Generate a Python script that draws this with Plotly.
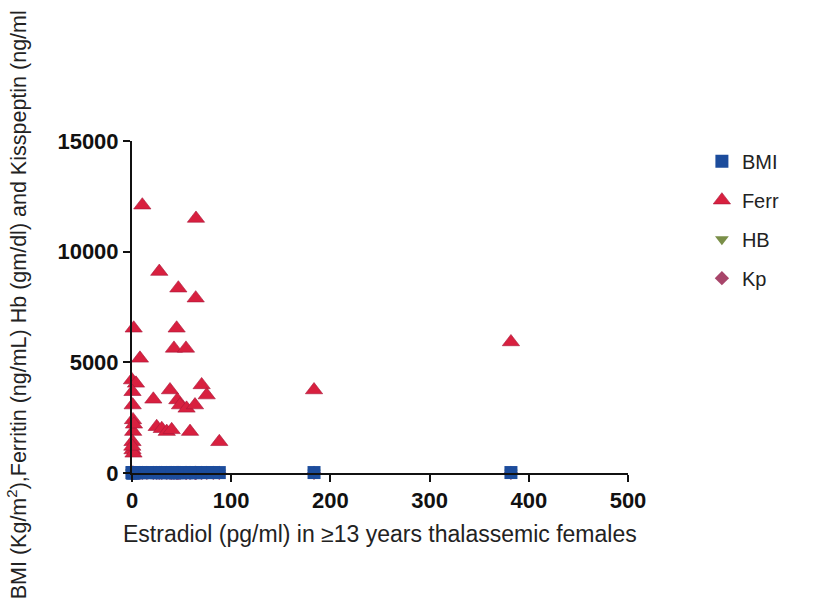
import plotly.graph_objects as go

# Estradiol (pg/ml) per patient
estradiol = [10.4, 64.5, 27.5, 46.7, 64.2, 1.7, 45.0, 42.3, 54.4, 8.0,
             0.0, 4.0, 0.5, 70.2, 75.3, 38.3, 21.5, 45.7, 48.4, 55.0,
             63.5, 0.7, 24.9, 30.0, 35.0, 40.0, 58.5, 1.0, 1.2, 0.5,
             0.5, 1.5, 88.0, 183.5, 382.0, 2.0, 0.3, 15.0, 82.0]
ferritin = [12100, 11500, 9100, 8350, 7900, 6540, 6540, 5630, 5630, 5180,
            4200, 4050, 3670, 3980, 3520, 3750, 3330, 3300, 3070, 2920,
            3070, 3070, 2090, 2000, 1870, 1950, 1870, 2400, 1870, 1410,
            1040, 890, 1410, 3750, 5920, 2200, 1200, None, None]
bmi = [17.2, 18.5, 16.8, 19.1, 17.9, 15.6, 18.2, 16.4, 17.7, 16.1,
       15.2, 17.0, 16.6, 18.8, 19.4, 17.3, 16.9, 18.0, 17.5, 18.3,
       19.0, 15.9, 16.2, 17.1, 16.7, 17.8, 18.6, 15.8, 16.3, 15.5,
       15.4, 16.0, 19.6, 20.2, 21.0, 15.7, 15.3, 16.5, 18.9]
hb = [8.1, 8.6, 7.9, 9.0, 8.4, 7.5, 8.8, 8.2, 8.7, 7.8,
      7.2, 7.6, 8.0, 9.1, 8.9, 8.3, 7.7, 8.5, 8.6, 9.2,
      8.4, 7.4, 7.9, 8.1, 8.0, 8.7, 9.0, 7.3, 7.6, 7.1,
      7.0, 7.5, 9.3, 9.5, 9.8, 7.7, 7.2, 8.2, 8.8]
kp = [3.2, 2.8, 4.1, 3.6, 2.5, 4.8, 3.0, 3.9, 2.7, 4.4,
      5.1, 4.6, 4.0, 2.9, 2.6, 3.4, 3.8, 3.1, 3.3, 2.8,
      2.6, 4.9, 3.7, 3.5, 3.6, 3.2, 2.9, 5.0, 4.7, 5.2,
      5.3, 4.8, 2.4, 2.2, 1.9, 4.5, 5.0, 4.2, 2.5]

xticks = [0, 100, 200, 300, 400, 500]
yticks = [0, 5000, 10000, 15000]

BLUE = "#1c4c9c"
RED = "#d8203f"
GREEN = "#7a8f48"
PINK = "#a8456a"

fig = go.Figure()
fig.add_trace(go.Scatter(x=estradiol, y=hb, mode="markers", name="HB",
                         legendrank=3, legendgroup="c",
                         marker=dict(symbol="triangle-down", size=12, color=GREEN),
                         cliponaxis=False))
fig.add_trace(go.Scatter(x=estradiol, y=kp, mode="markers", name="Kp",
                         legendrank=4, legendgroup="d",
                         marker=dict(symbol="diamond", size=11, color=PINK),
                         cliponaxis=False))
fig.add_trace(go.Scatter(x=estradiol, y=ferritin, mode="markers", name="Ferr",
                         legendrank=2, legendgroup="b",
                         marker=dict(symbol="triangle-up", size=15, color=RED,
                                     line=dict(color="#a8183a", width=0.6)),
                         cliponaxis=False))
fig.add_trace(go.Scatter(x=estradiol, y=bmi, mode="markers", name="BMI",
                         legendrank=1, legendgroup="a",
                         marker=dict(symbol="square", size=13, color=BLUE),
                         cliponaxis=False))

fig.update_layout(
    width=817, height=605,
    margin=dict(l=132, r=189, t=141, b=132),
    paper_bgcolor="white", plot_bgcolor="white",
    showlegend=True,
    legend=dict(x=1.149, y=0.998, xanchor="left", yanchor="top",
                font=dict(family="Liberation Sans", size=20, color="#222222"),
                tracegroupgap=10, bgcolor="rgba(0,0,0,0)"),
    xaxis=dict(range=[0, 500], tickvals=xticks, ticktext=[str(v) for v in xticks],
               showgrid=False, zeroline=False, showline=True, linecolor="#111111",
               linewidth=2, ticks="outside", ticklen=7, tickwidth=2, tickcolor="#111111",
               tickfont=dict(family="Liberation Sans", size=22, color="#111111", weight="bold")),
    yaxis=dict(range=[0, 15000], tickvals=yticks, ticktext=[str(v) for v in yticks],
               showgrid=False, zeroline=False, showline=True, linecolor="#111111",
               linewidth=2, ticks="outside", ticklen=7, tickwidth=2, tickcolor="#111111",
               tickfont=dict(family="Liberation Sans", size=22, color="#111111", weight="bold")),
    annotations=[
        dict(text="Estradiol (pg/ml) in \u226513 years thalassemic females",
             xref="paper", yref="paper", x=0.5, y=-0.185, xanchor="center", yanchor="middle",
             showarrow=False, font=dict(family="Liberation Sans", size=23, color="#222222")),
        dict(text="BMI (Kg/m<sup>2</sup>),Ferritin (ng/mL) Hb (gm/dl) and Kisspeptin (ng/ml",
             xref="paper", yref="paper", x=-0.232, y=0.508, xanchor="center", yanchor="middle",
             textangle=-90, showarrow=False,
             font=dict(family="Liberation Sans", size=21.5, color="#222222")),
    ],
)

fig.write_html("out.html")
